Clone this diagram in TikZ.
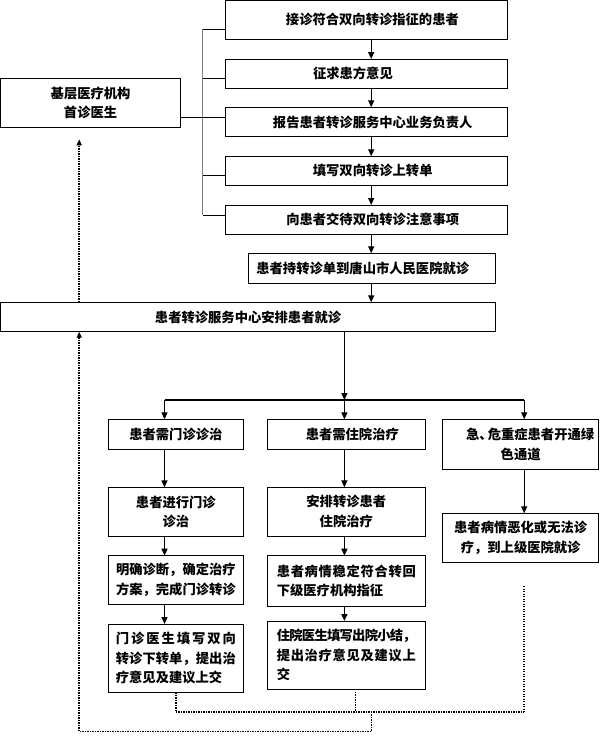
\documentclass[tikz,border=0pt]{standalone}
\usepackage{fontspec}
\setmainfont{Noto Sans CJK SC}
\usetikzlibrary{arrows.meta,calc}
\newcommand\spreadchars[2]{\hbox to #1{\spreadaux#2\relax\unskip}}
\def\spreadaux#1{\ifx\relax#1\else#1\hskip 0pt plus 1fil minus 2pt\expandafter\spreadaux\fi}
\tikzset{
  box/.style={draw=black,line width=1pt,fill=white,inner sep=1pt,outer sep=0pt,
    font=\fontsize{13.3}{19.5}\selectfont\bfseries,align=center},
  arr/.style={line width=1.3pt,-{Triangle[length=7pt,width=6pt]}},
  ln/.style={line width=1.3pt},
  dot/.style={line width=1.6pt,black,dash pattern=on 1.4pt off 1.1pt},
  dotarr/.style={dot,-{Triangle[length=6pt,width=5pt]}},
  tick/.style={line width=0.9pt,black},
  bus/.style={line width=1pt,black!50}
}
\newcommand\bx[7][]{\node[box,#1,minimum width={(#5)-(#3)},minimum height={(#6)-(#4)}] (#2) at ({((#3)+(#5))/2},{((#4)+(#6))/2}) {#7};}
\begin{document}
\begin{tikzpicture}[x=1pt,y=-1pt]
\useasboundingbox (0,0) rectangle (600,750);
\fill[white] (0,0) rectangle (600,750);
\bx{b1}{225.8}{0.6}{507}{39.3}{\hspace*{12pt}接诊符合双向转诊指征的患者}
\bx{b2}{225.8}{59}{507}{88.3}{征求患方意见\hspace*{27pt}}
\bx{b3}{225.8}{107.3}{507}{136.7}{\hspace*{12.6pt}报告患者转诊服务中心业务负责人}
\bx{b4}{225.8}{156.3}{507}{185.3}{\hspace*{12.6pt}填写双向转诊上转单}
\bx{b5}{225.8}{205}{507}{234.3}{\hspace*{12.6pt}向患者交待双向转诊注意事项}
\bx{L}{0.6}{78.3}{180.6}{127.3}{基层医疗机构\\首诊医生}
\bx{b6}{248}{253.3}{495.5}{283.3}{患者持转诊单到唐山市人民医院就诊\hspace*{18pt}}
\bx{b7}{0.6}{302.3}{495.5}{331.7}{患者转诊服务中心安排患者就诊}
\bx{A1}{108.3}{419.3}{243.4}{449}{患者需门诊诊治}
\bx{B1}{267.5}{419.3}{425.1}{449}{\hspace*{12pt}患者需住院治疗}
\bx{C1}{442.4}{419.3}{598.9}{469.3}{\hspace*{19pt}急、\kern-5pt 危重症患者开通绿\\色通道}
\bx{A2}{108.3}{487.3}{243.4}{536}{患者进行门诊\\诊治}
\bx{B2}{267.5}{487.3}{425.1}{536}{安排转诊患者\\住院治疗}
\bx{C2}{442.4}{513.3}{598.9}{562}{患者病情恶化或无法诊\\疗，到上级医院就诊}
\bx{A3}{108.3}{555.7}{243.4}{604.3}{明确诊断，确定治疗\\方案，完成门诊转诊}
\bx[align=left]{B3}{267.5}{555.7}{425.1}{606}{\spreadchars{139pt}{患者病情稳定符合转回}\\下级医疗机构指征}
\bx[align=left]{A4}{108.3}{624}{243.4}{692.3}{\spreadchars{120pt}{门诊医生填写双向}\\\spreadchars{120pt}{转诊下转单，提出治}\\疗意见及建议上交}
\bx[align=left]{B4}{267.5}{621}{425.1}{689.3}{\spreadchars{139pt}{住院医生填写出院小结，}\\\spreadchars{139pt}{提出治疗意见及建议上}\\交}
% bracket
\coordinate (bus) at (202.8,0);
\coordinate (t1) at ($(b1.south west)+(0,-10)$);
\coordinate (t2) at ($(b2.south west)+(0,-9.6)$);
\coordinate (t3) at ($(b3.north west)+(0,10)$);
\coordinate (t4) at ($(b4.south west)+(0,-9.6)$);
\coordinate (t5) at ($(b5.north west)+(0,10)$);
\draw[bus] (t1 -| bus) -- (t5 -| bus);
\foreach \t in {t1,t2,t4,t5} \draw[tick] (\t -| bus) -- (\t);
\draw[tick] (L.east |- t3) -- (t3);
% main chain
\coordinate (cx) at (371.2,0);
\foreach \a/\b in {b1/b2,b2/b3,b3/b4,b4/b5,b5/b6,b6/b7} \draw[arr] (\a.south -| cx) -- (\b.north -| cx);
% branches
\coordinate (ja) at (164.5,400);
\coordinate (jb) at (344.4,400);
\coordinate (jc) at (524.2,400);
\draw[arr] (b7.south -| jb) -- (jb);
\draw[ln] (ja) -- (jc);
\foreach \j/\n in {ja/A1,jb/B1,jc/C1} \draw[arr] (\j) -- (\j |- \n.north);
\foreach \a/\b in {A1/A2,A2/A3,A3/A4} \draw[arr] (\a.south -| ja) -- (\b.north -| ja);
\foreach \a/\b in {B1/B2,B2/B3,B3/B4} \draw[arr] (\a.south -| jb) -- (\b.north -| jb);
\draw[arr] (C1.south -| jc) -- (C2.north -| jc);
% dotted return
\coordinate (da) at (175.8,711.7);
\coordinate (db) at (355.5,711.7);
\coordinate (dc) at (524.2,711.7);
\coordinate (dm) at (371.5,711.7);
\coordinate (dl) at (79.2,731.5);
\draw[dot] (A4.south -| da) -- (da);
\draw[dot] ($(B4.south -| db)+(0,2.4)$) -- (db);
\draw[dot] ($(C2.south -| dc)+(0,24)$) -- (dc);
\draw[dot] (da) -- (dc);
\draw[dotarr] (dm) -- (dm |- dl) -- (dl) -- (b7.south -| dl);
\draw[dotarr] (b7.north -| dl) -- ($(L.south -| dl)+(0,12)$);
\end{tikzpicture}
\end{document}
